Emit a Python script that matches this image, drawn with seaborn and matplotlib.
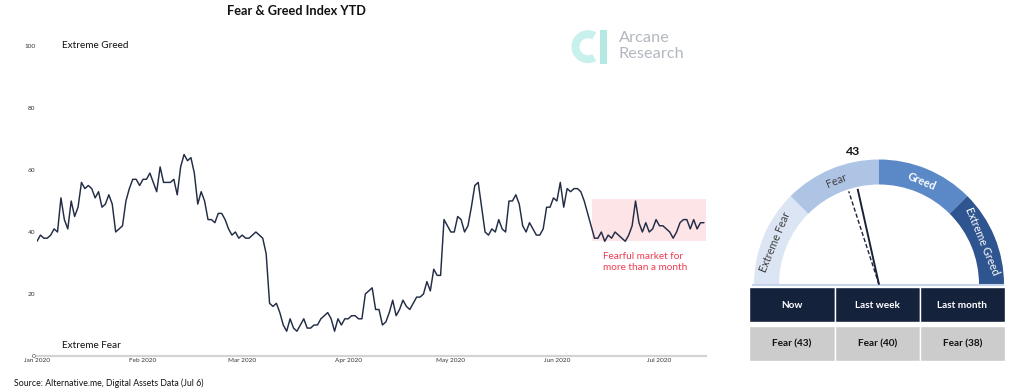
import numpy as np
import pandas as pd
import matplotlib
matplotlib.use("Agg")
import matplotlib.pyplot as plt
import seaborn as sns
from matplotlib.patches import Wedge, Rectangle

# ---------------- data ----------------
START_DATE = "2020-01-01"
fg_values = [
    37, 39, 38, 38, 39, 41, 40, 51, 44, 41, 50, 45, 48, 56, 54, 55, 54, 51, 53, 48,
    49, 52, 49, 40, 41, 42, 50, 54, 57, 57, 55, 57, 57, 59, 56, 53, 61, 56, 56, 56,
    57, 52, 61, 65, 63, 64, 59,
    49, 53, 50, 44, 44, 43, 46, 46, 44, 41, 39, 40, 38, 39, 38, 38, 39, 40, 39, 38,
    33, 17, 16, 17, 14, 10, 8, 12, 9, 8, 10, 12, 9, 9, 10, 10, 12, 13, 14, 12,
    8, 12, 10, 12, 12, 13, 13, 12, 12,
    20, 21, 22, 15, 15, 10, 11, 14, 18, 13, 15, 18, 16, 15, 17, 19, 19, 20, 24, 21,
    28, 26, 26, 44, 42, 40, 40, 45, 44, 40, 42, 48, 55, 56, 48, 40, 39, 41, 40, 44,
    41, 40, 50, 50, 52, 49, 42, 40,
    43, 41, 39, 39, 41, 48, 48, 51, 50, 56, 48, 54, 53, 54, 54, 53, 50, 46, 42, 38,
    38, 40, 37, 39, 38, 40, 39, 38, 37, 39, 42, 50, 43, 40, 43, 40, 41, 44, 42, 42,
    41, 40, 38, 40, 43, 44, 44, 41, 44, 41, 43, 43,
]
month_ticks = ["2020-01-01", "2020-02-01", "2020-03-01", "2020-04-01",
               "2020-05-01", "2020-06-01", "2020-07-01"]
y_ticks = [0, 20, 40, 60, 80, 100]
zone_top_label = "Extreme Greed"
zone_bottom_label = "Extreme Fear"

box_start, box_end = "2020-06-11 06:00", "2020-07-14 14:00"
box_low, box_high = 37, 50.6
box_note = "Fearful market for\nmore than a month"

gauge_names = ["Extreme Fear", "Fear", "Greed", "Extreme Greed"]
gauge_bounds = [0, 25, 50, 75, 100]
gauge_colors = ["#dbe5f3", "#aec4e5", "#5b89c8", "#2e558f"]
gauge_text_colors = ["#404040", "#404040", "white", "white"]
now_value = 43
last_week_value = 40
last_month_value = 38

table_headers = ["Now", "Last week", "Last month"]
table_values = ["Fear (43)", "Fear (40)", "Fear (38)"]

title = "Fear & Greed Index YTD"
source = "Source: Alternative.me, Digital Assets Data (Jul 6)"

# ---------------- style ----------------
sns.set_theme(style="white")
plt.rcParams["font.family"] = ["Lato", "DejaVu Sans"]

W, H = 1024, 389
fig = plt.figure(figsize=(W / 100, H / 100), dpi=100)
fig.patch.set_facecolor("white")

# ---------------- main line chart ----------------
ax = fig.add_axes([37 / W, 1 - 356 / H, 669 / W, 310 / H])
df = pd.DataFrame({"date": pd.date_range(START_DATE, periods=len(fg_values), freq="D"),
                   "value": fg_values})
ax.fill_between([pd.Timestamp(box_start), pd.Timestamp(box_end)], box_low, box_high,
                color="#fce4e7", linewidth=0, zorder=0)
sns.lineplot(data=df, x="date", y="value", ax=ax, color="#222c45", linewidth=1.05, zorder=2)

x0 = pd.Timestamp(START_DATE)
ax.set_xlim(x0, x0 + pd.Timedelta(days=195.6))
ax.set_ylim(0, 100)
ax.set_xticks([pd.Timestamp(m) for m in month_ticks])
ax.set_xticklabels([pd.Timestamp(m).strftime("%b %Y") for m in month_ticks])
ax.set_yticks(y_ticks)
ax.set_yticklabels([str(v) for v in y_ticks])
ax.tick_params(axis="both", length=0, labelsize=4.6, colors="#333333")
ax.tick_params(axis="y", pad=1)
ax.tick_params(axis="x", pad=1.5)
ax.set_xlabel("")
ax.set_ylabel("")
for s in ["top", "right", "left"]:
    ax.spines[s].set_visible(False)
ax.spines["bottom"].set_color("#d3d3d3")
ax.spines["bottom"].set_linewidth(1.6)
ax.grid(False)

ax.text(x0 + pd.Timedelta(days=7.3), 100, zone_top_label, fontsize=7.2, va="center",
        ha="left", color="#111111")
ax.text(x0 + pd.Timedelta(days=7.3), 3.3, zone_bottom_label, fontsize=7.2, va="center",
        ha="left", color="#111111")
ax.text(pd.Timestamp(box_start) + pd.Timedelta(days=3.3), 30.3, box_note, fontsize=7.2,
        va="center", ha="left", color="#ee3b52", linespacing=1.25)

# ---------------- overlay (pixel coordinates, y up) ----------------
ov = fig.add_axes([0, 0, 1, 1], zorder=5)
ov.set_xlim(0, W)
ov.set_ylim(0, H)
ov.axis("off")
ov.patch.set_alpha(0)

def Y(y):
    return H - y

ov.text(296, Y(11), title, fontsize=9.2, fontweight="bold", ha="center", va="center",
        color="#111111")
ov.text(14, Y(383), source, fontsize=6.3, ha="left", va="center", color="#111111")

# logo
ov.add_patch(Wedge((588, Y(46.7)), 16.5, 60, 300, width=8, color="#c8f0ec", linewidth=0))
ov.add_patch(Rectangle((599.5, Y(64)), 7, 34.5, color="#b4e9e3", linewidth=0))
ov.text(618.5, Y(38), "Arcane", fontsize=11.8, ha="left", va="center", color="#b3b8c0")
ov.text(618.5, Y(54), "Research", fontsize=11.8, ha="left", va="center", color="#b3b8c0")

# gauge
cx, cy = 879, Y(284.5)
R_out, ring = 125, 25

def ang(v):
    return 180 - v * 1.8

for i, name in enumerate(gauge_names):
    a1, a2 = ang(gauge_bounds[i + 1]), ang(gauge_bounds[i])
    ov.add_patch(Wedge((cx, cy), R_out, a1, a2, width=ring, color=gauge_colors[i],
                       linewidth=0))
    am = np.deg2rad(ang((gauge_bounds[i] + gauge_bounds[i + 1]) / 2))
    rm = R_out - ring / 2 - 0.5
    ov.text(cx + rm * np.cos(am), cy + rm * np.sin(am), name, fontsize=7.8,
            rotation=np.rad2deg(am) - 90, ha="center", va="center",
            color=gauge_text_colors[i], rotation_mode="anchor",
            fontweight="bold" if name == "Greed" else "normal")

ov.plot([752, 1004], [Y(284.5), Y(284.5)], color="#c5d4ea", linewidth=1.5,
        solid_capstyle="butt")

needle_len = 98
for val, style, lw in [(last_week_value, (0, (3, 1.6)), 1.0), (now_value, "-", 1.4)]:
    a = np.deg2rad(ang(val))
    ov.plot([cx, cx + needle_len * np.cos(a)], [cy, cy + needle_len * np.sin(a)],
            color="#1a2238", linewidth=lw, linestyle=style, solid_capstyle="butt")

an = np.deg2rad(ang(now_value))
ov.text(cx + 136 * np.cos(an) + 4, cy + 136 * np.sin(an), str(now_value), fontsize=8.8,
        fontweight="bold", ha="center", va="center", color="#111111")

# table
tx0, tx1 = 749.3, 1005
cw = (tx1 - tx0) / len(table_headers)
for j, (hdr, val) in enumerate(zip(table_headers, table_values)):
    xl = tx0 + j * cw
    ov.add_patch(Rectangle((xl, Y(322.3)), cw, 35, facecolor="#15223b",
                           edgecolor="white", linewidth=1.0))
    ov.add_patch(Rectangle((xl, Y(361)), cw, 35.3, facecolor="#cccccc",
                           edgecolor="white", linewidth=1.0))
    ov.text(xl + cw / 2, Y(305), hdr, fontsize=7.2, fontweight="bold", color="white",
            ha="center", va="center")
    ov.text(xl + cw / 2, Y(343.5), val, fontsize=7.2, fontweight="bold", color="#111111",
            ha="center", va="center")

fig.savefig("out.png", dpi=100, facecolor="white")
